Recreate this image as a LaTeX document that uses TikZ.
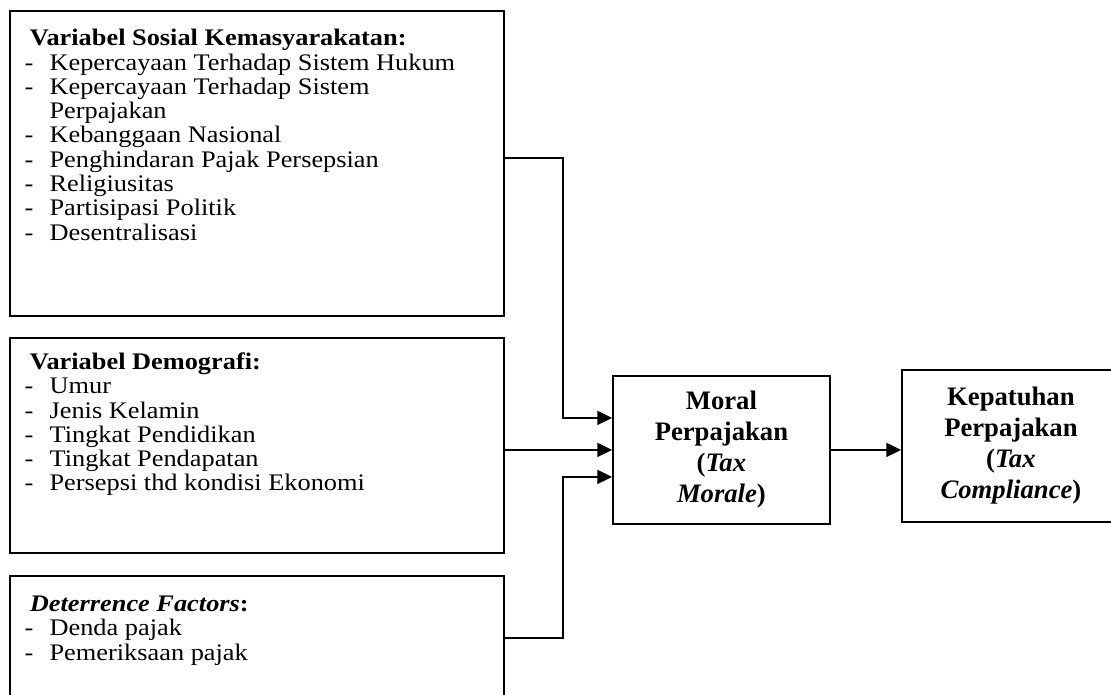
\documentclass[tikz,border=0pt]{standalone}
\usepackage{fontspec}
\setmainfont{Liberation Serif}
\newfontfamily\kirifont{Liberation Serif}[FakeStretch=1.11]
\usetikzlibrary{arrows.meta}
\tikzset{
	kotak/.style = {draw=black, line width=1.4pt, rectangle, anchor=north west},% kotak dasar
	kiri/.style = {kotak, inner xsep=11pt, inner ysep=0pt, minimum width=370.5pt,
		font=\kirifont\fontsize{17.8}{18.2}\selectfont},% kotak variabel kiri
	kanan/.style = {kotak, inner sep=0pt, align=center,
		font=\bfseries\fontsize{20}{23.25}\selectfont},% kotak moral / kepatuhan
	panah/.style = {line width=1.4pt, -{Triangle[length=11pt,width=10.5pt]}}% penghubung
}
\newcommand{\judul}[1]{\noindent\hspace*{4pt}\strut#1}
\newcommand{\butir}[1]{\par\noindent\hangindent=18.75pt\hangafter=1\makebox[18.75pt][l]{-}#1}
\newcommand{\isikotak}[3]{\parbox[t][#1][t]{348.5pt}{\raggedright\vspace*{#2}#3}}

\begin{document}
\begin{tikzpicture}[x=0.75pt,y=-0.75pt]
	\useasboundingbox (0,0) rectangle (1111,695);
	\clip (0,0) rectangle (1111,695);
	% kotak kiri
	\node [kiri] (sosial) at (9,10) {\isikotak{228.75pt}{13.5pt}{%
			\judul{\textbf{Variabel Sosial Kemasyarakatan:}}
			\butir{Kepercayaan Terhadap Sistem Hukum}
			\butir{Kepercayaan Terhadap Sistem\newline Perpajakan}
			\butir{Kebanggaan Nasional}
			\butir{Penghindaran Pajak Persepsian}
			\butir{Religiusitas}
			\butir{Partisipasi Politik}
			\butir{Desentralisasi}}};
	\node [kiri] (demografi) at (9,337) {\isikotak{161.25pt}{11pt}{%
			\judul{\textbf{Variabel Demografi:}}
			\butir{Umur}
			\butir{Jenis Kelamin}
			\butir{Tingkat Pendidikan}
			\butir{Tingkat Pendapatan}
			\butir{Persepsi thd kondisi Ekonomi}}};
	\node [kiri] (deterrence) at (9,575) {\isikotak{93pt}{14pt}{%
			\judul{\textbf{\textit{Deterrence Factors}:}}
			\butir{Denda pajak}
			\butir{Pemeriksaan pajak}}};
	% kotak kanan
	\node [kanan, minimum width=162.75pt, minimum height=111pt] (moral) at (612,375)
		{Moral\\Perpajakan\\(\textit{Tax}\\\textit{Morale})};
	\node [kanan, minimum width=163.5pt, minimum height=114pt] (kepatuhan) at (901,369)
		{Kepatuhan\\Perpajakan\\(\textit{Tax}\\\textit{Compliance})};
	% penghubung
	\draw [panah] ([yshift=4pt]sosial.east) -- ++(58,0) |- ([yshift=24pt]moral.west);
	\draw [panah] (demografi.east |- moral.west) -- (moral.west);
	\draw [panah] (deterrence.east) -- ++(58,0) |- ([yshift=-20.25pt]moral.west);
	\draw [panah] (moral.east) -- (moral.east -| kepatuhan.west);
\end{tikzpicture}
\end{document}
